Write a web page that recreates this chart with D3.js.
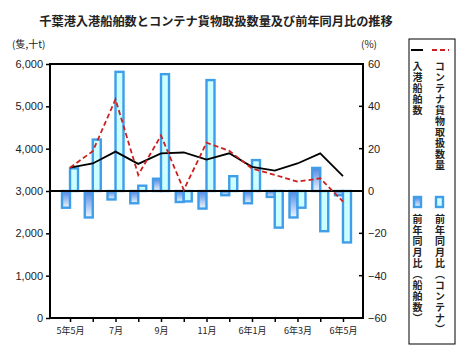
<!DOCTYPE html>
<html><head><meta charset="utf-8">
<script src="https://cdn.jsdelivr.net/npm/d3@7"></script>
<style>
body{margin:0;background:#fff;}
text{fill:#222;}
</style></head>
<body>
<svg id="c" width="466" height="358"></svg>
<script>
const categories = ["5年5月","5年6月","5年7月","5年8月","5年9月","5年10月","5年11月","5年12月","6年1月","6年2月","6年3月","6年4月","6年5月"];
const tickLabels = ["5年5月","","7月","","9月","","11月","","6年1月","","6年3月","","6年5月"];
const ships = [3550, 3650, 3930, 3640, 3890, 3910, 3740, 3890, 3570, 3480, 3650, 3890, 3350];
const containers = [3550, 3940, 5165, 3380, 4310, 3025, 4140, 3950, 3530, 3380, 3220, 3300, 2750];
const shipYoY = [-7.9, -12.5, -4.0, -5.8, 5.8, -5.2, -8.3, -2.0, -5.8, -2.8, -12.5, 10.9, -2.0];
const containerYoY = [10.7, 24.3, 56.3, 2.5, 55.2, -4.9, 52.4, 7.0, 14.6, -17.3, -7.9, -19.0, -24.3];
const leftTicks = [0, 1000, 2000, 3000, 4000, 5000, 6000];
const rightTicks = [-60, -40, -20, 0, 20, 40, 60];

const svg = d3.select("#c");
const L = 50, R = 363, T = 64, B = 318;
const jp = "'Noto Sans CJK JP', sans-serif";
const num = "'Liberation Sans', Arial, sans-serif";

const x = d3.scalePoint().domain(categories).range([L, R]).padding(0.88);
const yL = d3.scaleLinear().domain([0, 6000]).range([B, T]);
const yR = d3.scaleLinear().domain([-60, 60]).range([B, T]);

const defs = svg.append("defs");
const g1 = defs.append("linearGradient").attr("id","gShip").attr("x1",0).attr("y1",0).attr("x2",0).attr("y2",1);
g1.append("stop").attr("offset","0%").attr("stop-color","#4f86e2");
g1.append("stop").attr("offset","100%").attr("stop-color","#eef6ff");

// title
svg.append("text").attr("x", 216).attr("y", 26).attr("text-anchor","middle")
  .attr("font-family", jp).attr("font-weight","bold").attr("font-size", 12.2)
  .text("千葉港入港船舶数とコンテナ貨物取扱数量及び前年同月比の推移");
svg.append("text").attr("x", 12).attr("y", 48).attr("font-family", jp).attr("font-size", 10).text("(隻,十t)");
svg.append("text").attr("x", 361).attr("y", 48).attr("font-family", jp).attr("font-size", 10).text("(%)");

const bw = 8;
const stroke = "#3f9ee9";
// ship yoy bars
svg.append("g").selectAll("rect").data(shipYoY).join("rect")
  .attr("x", (d,i) => x(categories[i]) - bw)
  .attr("width", bw)
  .attr("y", d => Math.min(yR(d), yR(0)))
  .attr("height", d => Math.abs(yR(d) - yR(0)))
  .attr("fill","url(#gShip)").attr("stroke", stroke).attr("stroke-width", 2.4);
// container yoy bars
svg.append("g").selectAll("rect").data(containerYoY).join("rect")
  .attr("x", (d,i) => x(categories[i]))
  .attr("width", bw)
  .attr("y", d => Math.min(yR(d), yR(0)))
  .attr("height", d => Math.abs(yR(d) - yR(0)))
  .attr("fill","#ccffff").attr("stroke", stroke).attr("stroke-width", 2.4);

// zero line
svg.append("line").attr("x1", L).attr("x2", R).attr("y1", yR(0)).attr("y2", yR(0))
  .attr("stroke","#000").attr("stroke-width", 2);

// lines
const line = d3.line().x((d,i) => x(categories[i])).y(d => yL(d));
svg.append("path").datum(ships).attr("d", line).attr("fill","none").attr("stroke","#000").attr("stroke-width", 1.8);
svg.append("path").datum(containers).attr("d", line).attr("fill","none").attr("stroke","#cc1f1f").attr("stroke-width", 1.8).attr("stroke-dasharray","5,3");

// frame
svg.append("rect").attr("x", L).attr("y", T).attr("width", R-L).attr("height", B-T)
  .attr("fill","none").attr("stroke","#000").attr("stroke-width", 2);

// left axis
const gl = svg.append("g").attr("transform", `translate(${L},0)`)
  .call(d3.axisLeft(yL).tickValues(leftTicks).tickSize(4).tickPadding(3).tickFormat(d3.format(",")));
gl.select(".domain").remove();
gl.selectAll("text").attr("font-family", num).attr("font-size", 11).attr("fill","#333");
gl.selectAll("line").attr("stroke","#000").attr("stroke-width",1.5);

// right axis
const gr = svg.append("g").attr("transform", `translate(${R},0)`)
  .call(d3.axisRight(yR).tickValues(rightTicks).tickSize(0).tickPadding(5));
gr.select(".domain").remove();
gr.selectAll("text").attr("font-family", num).attr("font-size", 11).attr("fill","#333");
svg.append("g").selectAll("line").data(rightTicks).join("line")
  .attr("x1", R-4).attr("x2", R).attr("y1", d => yR(d)).attr("y2", d => yR(d))
  .attr("stroke","#000").attr("stroke-width",1.5);

// x axis
const gx = svg.append("g").attr("transform", `translate(0,${B})`)
  .call(d3.axisBottom(x).tickSize(4).tickPadding(6).tickFormat((d,i) => tickLabels[i]));
gx.select(".domain").remove();
gx.selectAll("line").attr("stroke","#000").attr("stroke-width",1.5);
gx.selectAll("text").attr("font-family", jp).attr("font-size", 9).attr("fill","#333");

// legend
const lg = svg.append("g");
lg.append("rect").attr("x", 409).attr("y", 39).attr("width", 46).attr("height", 305)
  .attr("fill","#fff").attr("stroke","#000").attr("stroke-width",1);
lg.append("line").attr("x1", 411).attr("x2", 423).attr("y1", 50).attr("y2", 50).attr("stroke","#000").attr("stroke-width",2);
lg.append("line").attr("x1", 432).attr("x2", 449).attr("y1", 50).attr("y2", 50).attr("stroke","#cc1f1f").attr("stroke-width",2).attr("stroke-dasharray","5,3");
lg.append("rect").attr("x", 414).attr("y", 197).attr("width", 7).attr("height", 10).attr("fill","url(#gShip)").attr("stroke",stroke).attr("stroke-width",2.4);
lg.append("rect").attr("x", 436).attr("y", 197).attr("width", 7).attr("height", 10).attr("fill","#ccffff").attr("stroke",stroke).attr("stroke-width",2.4);
const vt = (tx, ty, s) => lg.append("text").attr("x", tx).attr("y", ty)
  .attr("font-family", jp).attr("font-size", 10).attr("font-weight","bold")
  .style("writing-mode","vertical-rl").style("letter-spacing","1px").text(s);
vt(417.5, 61, "入港船舶数");
vt(440, 61, "コンテナ貨物取扱数量");
vt(417.5, 214, "前年同月比（船舶数）");
vt(440, 214, "前年同月比（コンテナ）");
</script>
</body></html>
